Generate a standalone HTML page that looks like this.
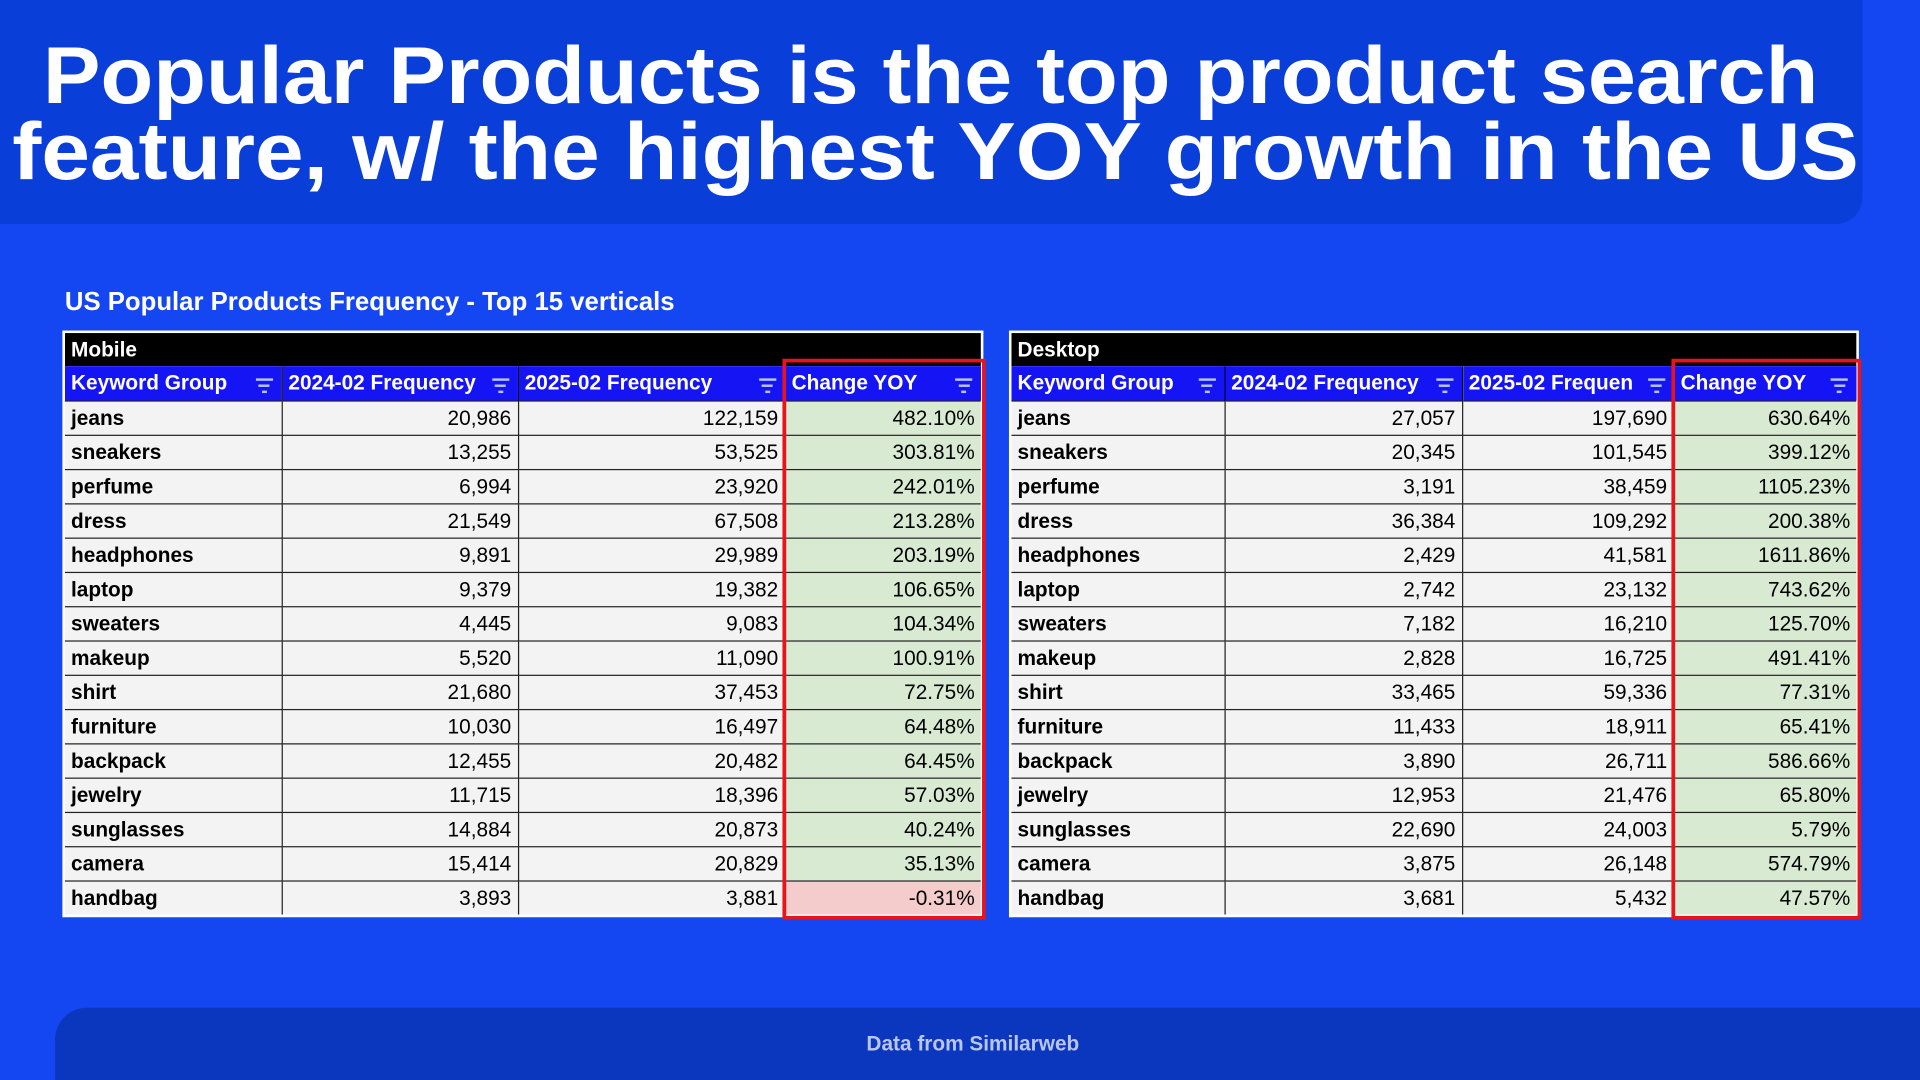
<!DOCTYPE html>
<html><head><meta charset="utf-8"><style>
html,body{margin:0;padding:0;width:1920px;height:1080px;overflow:hidden;background:#1447f2;}
#stage{position:absolute;left:0;top:0;width:1568px;height:882px;transform:scale(1.2244898);transform-origin:0 0;font-family:"Liberation Sans",Arial,sans-serif;}
.band{position:absolute;left:0;top:0;width:1521px;height:183px;background:#0a3ed9;border-bottom-right-radius:22px;}
.foot{position:absolute;left:45px;top:823px;width:1523px;height:59px;background:#0a37bd;border-top-left-radius:26px;}
.foot span{position:absolute;left:0;right:24px;top:20px;text-align:center;color:#b9c6f2;font-weight:bold;font-size:17px;}
.sub{position:absolute;left:53px;top:235px;color:#fff;font-weight:bold;font-size:21px;}
table{position:absolute;border-collapse:collapse;background:#fff;border:2px solid #fff;}
td{height:27px;padding:0 5px;font-size:17px;border:1px solid #222;background:#f3f3f3;color:#000;white-space:nowrap;overflow:hidden;}
td.k{font-weight:bold;}
td.n{text-align:right;}
td.g{background:#d9ead3;text-align:right;}
td.r{background:#f4cccc;text-align:right;}
tr.t td{background:#000;color:#fff;font-weight:bold;border:none;height:27px;}
tr.h td{background:#1414f5;color:#fff;font-weight:bold;height:28px;border:none;border-right:1px solid #000;position:relative;}
.fi{position:absolute;right:7px;top:10px;width:14px;}
.fi i{display:block;height:2px;background:#b8c4ff;margin:0 auto 3px;}
.box{position:absolute;border:3px solid #e8141c;box-sizing:border-box;}
</style></head><body>
<div id="stage">
<div class="band">
<svg width="1521" height="183">
<text x="760" y="84" text-anchor="middle" fill="#fff" font-family="Liberation Sans" font-weight="bold" font-size="66" textLength="1450" lengthAdjust="spacingAndGlyphs">Popular Products is the top product search</text>
<text x="764" y="146" text-anchor="middle" fill="#fff" font-family="Liberation Sans" font-weight="bold" font-size="66" textLength="1508" lengthAdjust="spacingAndGlyphs">feature, w/ the highest YOY growth in the US</text>
</svg></div>
<div class="sub">US Popular Products Frequency - Top 15 verticals</div>
<div id="tables"></div>
<div class="foot"><span>Data from Similarweb</span></div>
</div>
<script>
const keywords=["jeans","sneakers","perfume","dress","headphones","laptop","sweaters","makeup","shirt","furniture","backpack","jewelry","sunglasses","camera","handbag"];
const mob2024=["20,986","13,255","6,994","21,549","9,891","9,379","4,445","5,520","21,680","10,030","12,455","11,715","14,884","15,414","3,893"];
const mob2025=["122,159","53,525","23,920","67,508","29,989","19,382","9,083","11,090","37,453","16,497","20,482","18,396","20,873","20,829","3,881"];
const mobYoy=["482.10%","303.81%","242.01%","213.28%","203.19%","106.65%","104.34%","100.91%","72.75%","64.48%","64.45%","57.03%","40.24%","35.13%","-0.31%"];
const desk2024=["27,057","20,345","3,191","36,384","2,429","2,742","7,182","2,828","33,465","11,433","3,890","12,953","22,690","3,875","3,681"];
const desk2025=["197,690","101,545","38,459","109,292","41,581","23,132","16,210","16,725","59,336","18,911","26,711","21,476","24,003","26,148","5,432"];
const deskYoy=["630.64%","399.12%","1105.23%","200.38%","1611.86%","743.62%","125.70%","491.41%","77.31%","65.41%","586.66%","65.80%","5.79%","574.79%","47.57%"];
function build(name,left,widths,heads,c1,c2,c3,slug){
  const st=document.getElementById('stage');
  const t=document.createElement('table');
  
  
  t.style.left=left+'px';t.style.top='270px';t.style.tableLayout='fixed';
  const tw=widths.reduce((a,b)=>a+b,0);t.style.width=tw+'px';
  let h='<colgroup>'+widths.map(w=>'<col style="width:'+w+'px">').join('')+'</colgroup>';
  h+='<tr class="t"><td colspan="4">'+name+'</td></tr>';
  h+='<tr class="h">'+heads.map((x,i)=>'<td>'+x+'<span class="fi"><i style="width:14px"></i><i style="width:9px"></i><i style="width:4px"></i></span></td>').join('')+'</tr>';
  keywords.forEach((k,i)=>{
    const neg=c3[i].startsWith('-');
    h+='<tr><td class="k">'+k+'</td><td class="n">'+c1[i]+'</td><td class="n">'+c2[i]+'</td><td class="'+(neg?'r':'g')+'">'+c3[i]+'</td></tr>';
  });
  t.innerHTML=h;st.appendChild(t);
  const b=document.createElement('div');
  
  
  b.className='box';
  const x=left+widths[0]+widths[1]+widths[2];
  b.style.left=(x-1)+'px';b.style.top='293px';b.style.width=(widths[3]+5)+'px';b.style.height='458px';
  st.appendChild(b);
}
build('Mobile',51,[178,193,218,161],["Keyword Group","2024-02 Frequency","2025-02 Frequency","Change YOY"],mob2024,mob2025,mobYoy,'mobile');
build('Desktop',824,[175,194,173,150],["Keyword Group","2024-02 Frequency","2025-02 Frequen","Change YOY"],desk2024,desk2025,deskYoy,'desktop');
</script>
</body></html>
